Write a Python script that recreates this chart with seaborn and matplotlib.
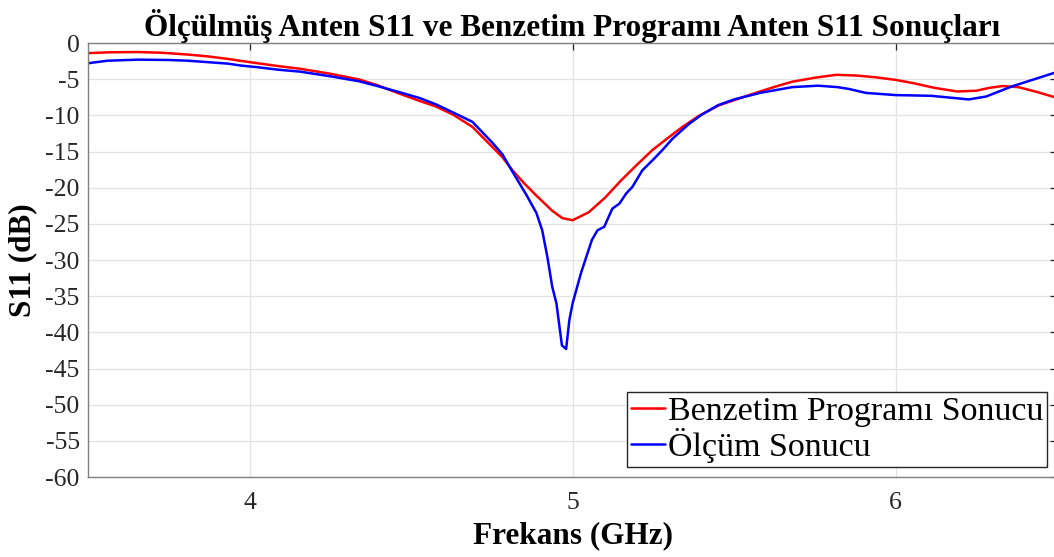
import numpy as np
import pandas as pd
import matplotlib
matplotlib.use("Agg")
import matplotlib.pyplot as plt
import seaborn as sns

# Benzetim (simulation) S11 readings
sim_freq = [3.50, 3.57, 3.655, 3.73, 3.81, 3.87, 3.933, 3.97, 4.025, 4.09, 4.155, 4.25,
            4.34, 4.40, 4.464, 4.526, 4.578, 4.63, 4.69, 4.75, 4.783, 4.814, 4.85, 4.888,
            4.937, 4.968, 5.00, 5.05, 5.10, 5.123, 5.15, 5.20, 5.247, 5.29, 5.34, 5.39,
            5.454, 5.50, 5.58, 5.63, 5.68, 5.75, 5.815, 5.88, 5.94, 6.00, 6.06, 6.12,
            6.19, 6.25, 6.29, 6.33, 6.38, 6.44, 6.50]
sim_s11 = [-1.4, -1.28, -1.25, -1.35, -1.6, -1.85, -2.2, -2.45, -2.8, -3.2, -3.55, -4.25,
           -5.05, -5.9, -7.0, -8.0, -8.8, -9.9, -11.6, -14.3, -15.8, -17.6, -19.4, -21.1,
           -23.2, -24.2, -24.5, -23.4, -21.4, -20.3, -19.0, -16.8, -14.8, -13.3, -11.6, -10.1,
           -8.6, -7.9, -6.7, -6.0, -5.35, -4.8, -4.4, -4.5, -4.75, -5.1, -5.6, -6.2,
           -6.7, -6.6, -6.2, -5.95, -6.1, -6.8, -7.6]

# Olcum (measured) S11 readings
meas_freq = [3.50, 3.56, 3.655, 3.75, 3.81, 3.933, 3.97, 4.025, 4.09, 4.155, 4.25, 4.34,
             4.40, 4.464, 4.526, 4.578, 4.63, 4.69, 4.752, 4.783, 4.81, 4.857, 4.888, 4.906,
             4.922, 4.937, 4.950, 4.967, 4.980, 4.990, 5.000, 5.026, 5.060, 5.077, 5.098,
             5.123, 5.145, 5.166, 5.185, 5.216, 5.25, 5.278, 5.31, 5.36, 5.40, 5.45, 5.50,
             5.58, 5.68, 5.76, 5.82, 5.855, 5.908, 6.00, 6.11, 6.18, 6.226, 6.28, 6.36,
             6.43, 6.50]
meas_s11 = [-2.8, -2.45, -2.3, -2.35, -2.45, -2.85, -3.1, -3.35, -3.7, -3.95, -4.6, -5.3,
            -6.0, -6.8, -7.6, -8.5, -9.6, -10.9, -13.8, -15.4, -17.5, -21.0, -23.5, -25.9,
            -29.6, -33.7, -36.0, -41.8, -42.3, -38.3, -36.0, -31.8, -27.2, -25.9, -25.4,
            -22.9, -22.2, -20.8, -19.9, -17.6, -16.1, -14.8, -13.2, -11.2, -9.9, -8.6, -7.8,
            -6.9, -6.1, -5.9, -6.1, -6.35, -6.9, -7.2, -7.3, -7.6, -7.8, -7.4, -6.0,
            -5.0, -4.0]

sim_label = "Benzetim Programı Sonucu"
meas_label = "Ölçüm Sonucu"

df = pd.concat([
    pd.DataFrame({"f": sim_freq, "s11": sim_s11, "seri": sim_label}),
    pd.DataFrame({"f": meas_freq, "s11": meas_s11, "seri": meas_label}),
])

sns.set_style("whitegrid")
plt.rcParams["font.family"] = ["Liberation Serif", "DejaVu Serif"]
plt.rcParams["axes.unicode_minus"] = False

fig = plt.figure(figsize=(10.54, 5.57), dpi=100)
ax = fig.add_axes([0.0835, 0.1436, 0.9195, 0.7792])

sns.lineplot(data=df, x="f", y="s11", hue="seri", sort=False, estimator=None,
             palette={sim_label: "#ff0000", meas_label: "#0000ff"},
             linewidth=1.8, ax=ax)

ax.set_xlim(3.5, 6.5)
ax.set_ylim(-60, 0)
ax.set_xticks([4, 5, 6])
ax.set_yticks(np.arange(-60, 1, 5))
ax.grid(True, color="#e3e3e3", linewidth=0.9)
for s in ax.spines.values():
    s.set_color("#808080")
    s.set_linewidth(1.0)
ax.tick_params(direction="in", length=5, width=0.9, color="#262626",
               labelsize=18.5, labelcolor="#262626", top=True, right=True)
ax.tick_params(axis="x", pad=11)
ax.tick_params(axis="y", pad=6)

ax.set_xlabel("Frekans (GHz)", fontsize=22.5, fontweight="bold", labelpad=5, color="black")
ax.set_ylabel("S11 (dB)", fontsize=22.5, fontweight="bold", labelpad=6, color="black")
ax.set_title("Ölçülmüş Anten S11 ve Benzetim Programı Anten S11 Sonuçları",
             fontsize=22.5, fontweight="bold", pad=5, color="black")

leg = ax.legend(loc="lower right", fontsize=24.5, frameon=True, fancybox=False,
                edgecolor="#262626", handlelength=1.0, handletextpad=0.1,
                borderpad=0.1, labelspacing=0.05, borderaxespad=0.3)
leg.get_frame().set_linewidth(1.0)
leg.get_frame().set_alpha(1)
for t in leg.get_texts():
    t.set_color("black")

fig.savefig("out.png", dpi=100)
